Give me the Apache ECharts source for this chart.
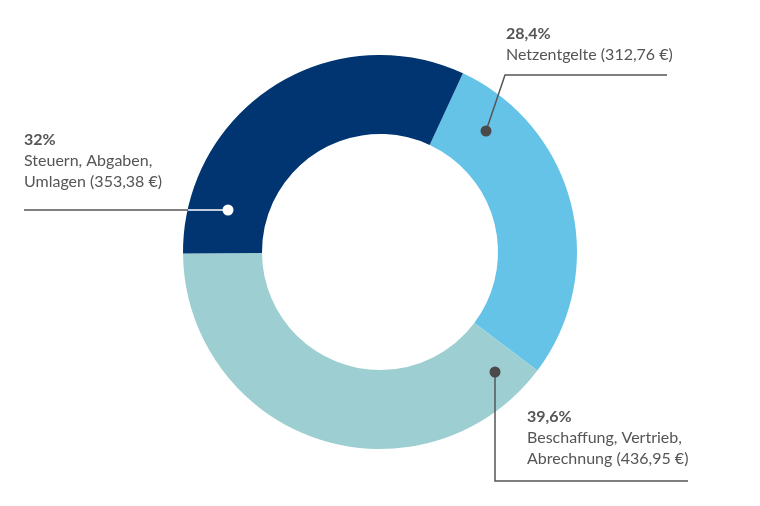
<!DOCTYPE html>
<html>
<head>
<meta charset="utf-8">
<script src="https://cdn.jsdelivr.net/npm/echarts@6/dist/echarts.min.js"></script>
<style>
html,body{margin:0;padding:0;background:#fff;}
#chart{width:760px;height:506px;}
</style>
</head>
<body>
<div id="chart"></div>
<script>
// Data
const categories = ['Netzentgelte', 'Beschaffung, Vertrieb, Abrechnung', 'Steuern, Abgaben, Umlagen'];
const values = [312.76, 436.95, 353.38];
const percentLabels = ['28,4%', '39,6%', '32%'];
const nameLines = [
  ['Netzentgelte (312,76 €)'],
  ['Beschaffung, Vertrieb,', 'Abrechnung (436,95 €)'],
  ['Steuern, Abgaben,', 'Umlagen (353,38 €)']
];
const colors = ['#66c3e8', '#9dcfd2', '#003571'];

// Annotation layout (label positions, leader lines, dots)
const annotations = [
  { textX: 506, textY: 42, line: [[486,131],[505,75],[667,75]], dot: [486,131], dotFill: '#4a4a4a', lineColor: '#555' },
  { textX: 527, textY: 425, line: [[495,372],[495,481],[688,481]], dot: [495,372], dotFill: '#4a4a4a', lineColor: '#555' },
  { textX: 24, textY: 148, line: [[24,210],[188,210]], inner: [[188,210],[228,210]], dot: [228,210], dotFill: '#ffffff', lineColor: '#555' }
];

const FONT = 'Lato, "Source Sans Pro", "Open Sans", sans-serif';
const chart = echarts.init(document.getElementById('chart'), null, { renderer: 'canvas' });

const graphics = [];
annotations.forEach((a, i) => {
  graphics.push({ type: 'polyline', z: 10, shape: { points: a.line }, style: { stroke: a.lineColor, lineWidth: 1.5, fill: null } });
  if (a.inner) graphics.push({ type: 'polyline', z: 10, shape: { points: a.inner }, style: { stroke: '#ffffff', lineWidth: 1.5, fill: null } });
  graphics.push({ type: 'circle', z: 11, shape: { cx: a.dot[0], cy: a.dot[1], r: 5.5 }, style: { fill: a.dotFill } });
  graphics.push({ type: 'text', z: 10, x: a.textX, y: a.textY, style: { text: percentLabels[i], font: 'bold 16px ' + FONT, fill: '#555', verticalAlign: 'bottom' } });
  nameLines[i].forEach((t, j) => {
    graphics.push({ type: 'text', z: 10, x: a.textX, y: a.textY + 21 * (j + 1), style: { text: t, font: '16px ' + FONT, fill: '#555', verticalAlign: 'bottom' } });
  });
});

chart.setOption({
  animation: false,
  series: [{
    type: 'pie',
    center: [380, 252],
    radius: [118, 197],
    startAngle: 65.1,
    clockwise: true,
    label: { show: false },
    labelLine: { show: false },
    itemStyle: { borderWidth: 0 },
    data: categories.map((c, i) => ({ name: c, value: values[i], itemStyle: { color: colors[i] } }))
  }],
  graphic: graphics
});
</script>
</body>
</html>
